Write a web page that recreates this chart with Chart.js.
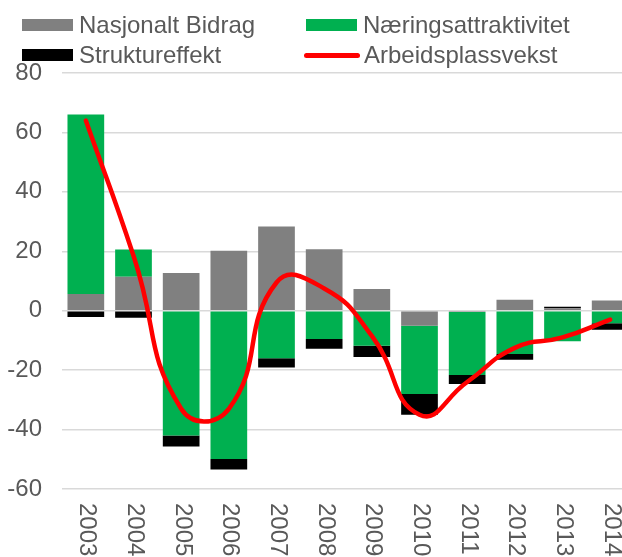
<!DOCTYPE html>
<html>
<head>
<meta charset="utf-8">
<script src="https://cdn.jsdelivr.net/npm/chart.js@4/dist/chart.umd.min.js"></script>
<style>
  html, body { margin: 0; padding: 0; background: #fff; overflow: hidden; }
  #wrap { position: relative; width: 622px; height: 557px; overflow: hidden; }
  #chart { position: absolute; left: 0; top: 0; }
  .item { position: absolute; height: 28px; display: flex; align-items: center;
          font: 24px 'Liberation Sans', Arial, sans-serif; color: #595959; white-space: nowrap; }
  .mark { display: inline-block; width: 51px; height: 12px; margin-right: 6px; }
  .mark.line { width: 56px; height: 5px; border-radius: 3px; margin-left: -2px; margin-right: 4px; }
</style>
</head>
<body>
<div id="wrap">
  <canvas id="chart" width="636" height="557"></canvas>
</div>
<script>
'use strict'

var years = ['2003', '2004', '2005', '2006', '2007', '2008', '2009', '2010', '2011', '2012', '2013', '2014'];
var nasjonalt = [5.6, 11.4, 12.7, 20.2, 28.3, 20.7, 7.3, -5.1, -0.4, 3.7, 0.8, 3.4];
var naering = [60.4, 9.2, -42, -49.9, -16, -9.5, -11.8, -22.9, -21.2, -14.6, -10.3, -4.2];
var struktur = [-2.1, -2.4, -3.7, -3.5, -3.1, -3.3, -3.8, -7, -3.1, -1.9, 0.5, -2.2];
var vekst = [64, 18.5, -33, -33, 9.5, 7.5, -8.5, -35, -24, -12.5, -9, -3];

var textColor = '#595959';
var fontFamily = "'Liberation Sans', Arial, sans-serif";

// x labels are rotated clockwise (read top to bottom), so draw them here
var yearLabels = {
    id: 'yearLabels',
    afterDraw: function (chart) {
        var ctx = chart.ctx;
        var x = chart.scales.x;
        ctx.save();
        ctx.font = '24px ' + fontFamily;
        ctx.fillStyle = textColor;
        ctx.textAlign = 'left';
        ctx.textBaseline = 'middle';
        chart.data.labels.forEach(function (lab, i) {
            ctx.save();
            ctx.translate(x.getPixelForValue(i) + 1, chart.chartArea.bottom + 14);
            ctx.rotate(Math.PI / 2);
            ctx.fillText(lab, 0, 0);
            ctx.restore();
        });
        ctx.restore();
    }
};

var barData = {
    labels: years,
    datasets: [{
        type: 'bar',
        label: 'Nasjonalt Bidrag',
        data: nasjonalt,
        backgroundColor: '#808080',
        stack: 's',
        order: 1
    }, {
        type: 'bar',
        label: 'Næringsattraktivitet',
        data: naering,
        backgroundColor: '#00B050',
        stack: 's',
        order: 1
    }, {
        type: 'bar',
        label: 'Struktureffekt',
        data: struktur,
        backgroundColor: '#000000',
        stack: 's',
        order: 1
    }, {
        type: 'line',
        label: 'Arbeidsplassvekst',
        data: vekst,
        borderColor: '#FF0000',
        backgroundColor: '#FF0000',
        borderWidth: 4.5,
        borderCapStyle: 'round',
        borderJoinStyle: 'round',
        pointRadius: 0,
        tension: 0.5,
        fill: false,
        order: 0
    }]
};

var barOptions = {
    responsive: false,
    animation: false,
    layout: {
        padding: { top: 73, left: 7, right: 2, bottom: 68 }
    },
    plugins: {
        legend: { display: false },
        tooltip: { enabled: false }
    },
    datasets: {
        bar: { barPercentage: 0.77, categoryPercentage: 1 }
    },
    scales: {
        x: {
            display: false,
            stacked: true
        },
        y: {
            stacked: true,
            min: -60,
            max: 80,
            afterFit: function (scale) {
                scale.width = 55;
            },
            ticks: {
                stepSize: 20,
                padding: 20,
                color: textColor,
                font: { size: 24, family: fontFamily }
            },
            grid: {
                color: '#D9D9D9',
                lineWidth: 1.5,
                drawTicks: false
            },
            border: { display: false }
        }
    }
};

var chart = new Chart(document.getElementById('chart').getContext('2d'), {
    data: barData,
    options: barOptions,
    plugins: [yearLabels]
});

// legend in two columns, like the original
var wrap = document.getElementById('wrap');
var cols = [22, 306];
var rows = [11, 41];
chart.data.datasets.forEach(function (ds, i) {
    var item = document.createElement('div');
    item.className = 'item';
    item.style.left = cols[i % 2] + 'px';
    item.style.top = rows[Math.floor(i / 2)] + 'px';
    var mark = document.createElement('span');
    mark.className = ds.type === 'line' ? 'mark line' : 'mark';
    mark.style.background = ds.type === 'line' ? ds.borderColor : ds.backgroundColor;
    var txt = document.createElement('span');
    txt.textContent = ds.label;
    item.appendChild(mark);
    item.appendChild(txt);
    wrap.appendChild(item);
});
</script>
</body>
</html>
